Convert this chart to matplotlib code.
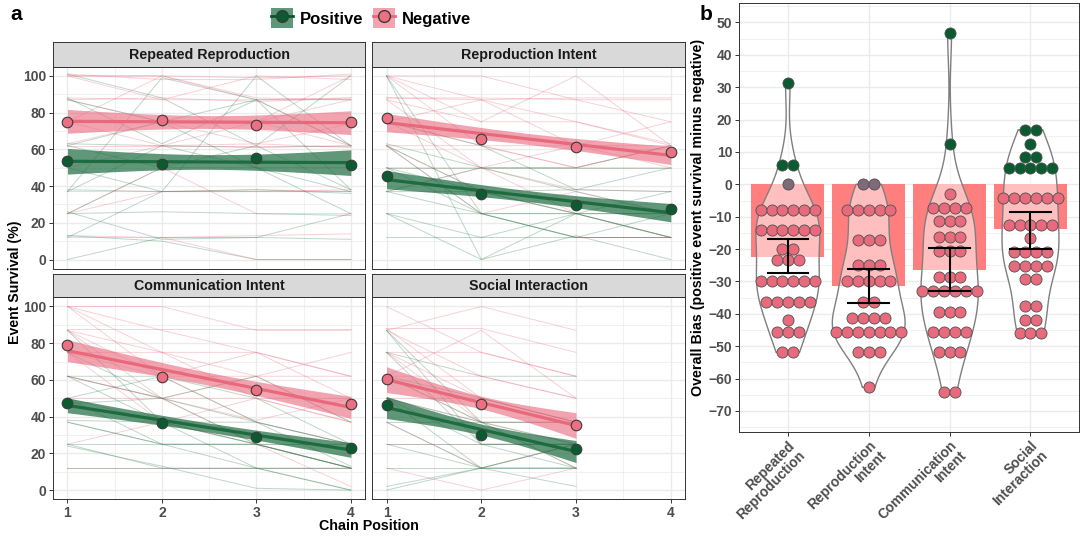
import numpy as np
import matplotlib
matplotlib.use("Agg")
import matplotlib.pyplot as plt
from matplotlib.patches import Patch
from matplotlib.lines import Line2D

plt.rcParams['font.family'] = ['Liberation Sans', 'DejaVu Sans']
plt.rcParams['font.weight'] = 'bold'

W, H = 1083, 537

# ---------------- panel a data ----------------
facet_names = ["Repeated Reproduction", "Reproduction Intent",
               "Communication Intent", "Social Interaction"]

pos_means = [[53.5, 52.0, 55.5, 51.5],
             [45.5, 35.5, 29.5, 27.5],
             [47.5, 36.5, 29.0, 23.0],
             [46.5, 30.0, 22.5]]
neg_means = [[75.0, 76.0, 73.5, 75.0],
             [77.0, 65.5, 61.5, 58.5],
             [79.0, 61.5, 54.5, 47.0],
             [60.5, 47.0, 35.5]]

# ribbon half widths (ends / centre) of the fitted trend
pos_ci_end = [7.0, 5.0, 4.0, 6.0]
pos_ci_mid = [4.0, 3.0, 2.5, 3.0]
neg_ci_end = [6.5, 5.0, 6.0, 7.0]
neg_ci_mid = [3.5, 3.0, 3.5, 3.5]

# individual chains
rr_pos_lines = [[101, 88, 62, 38], [88, 63, 87, 87], [62, 50, 50, 37], [62, 75, 87, 38],
                [50, 37, 100, 62], [38, 37, 37, 37], [37, 62, 50, 25], [25, 26, 25, 24],
                [26, 11, 12, 25], [13, 10, 0, 0], [0, 12, 12, 11], [37, 99, 87, 62],
                [63, 62, 61, 62], [87, 75, 50, 50], [12, 37, 38, 36], [25, 50, 62, 100]]
rr_neg_lines = [[100, 100, 99, 100], [101, 98, 98, 101], [100, 100, 88, 87], [88, 87, 87, 88],
                [87, 88, 86, 88], [87, 75, 75, 62], [76, 75, 63, 74], [75, 62, 75, 87],
                [63, 75, 75, 100], [62, 62, 62, 62], [50, 62, 63, 61], [37, 37, 38, 37],
                [25, 37, 37, 38], [25, 50, 25, 25], [13, 12, 0, 0], [100, 87, 100, 98],
                [75, 100, 87, 62], [12, 12, 13, 14]]
ri_pos_lines = [[100, 0, 25, 12], [100, 25, 12, 12], [63, 50, 50, 62], [62, 37, 25, 25],
                [50, 50, 50, 50], [50, 25, 12, 25], [37, 37, 25, 25], [37, 25, 25, 12],
                [25, 25, 12, 12], [25, 0, 13, 0], [12, 12, 25, 12], [75, 62, 38, 37],
                [50, 37, 38, 50], [37, 50, 37, 25], [62, 25, 25, 37], [25, 12, 12, 12]]
ri_neg_lines = [[100, 100, 87, 75], [100, 87, 75, 62], [88, 88, 87, 87], [88, 87, 88, 88],
                [100, 75, 100, 62], [75, 87, 62, 62], [75, 62, 62, 50], [62, 62, 50, 50],
                [87, 50, 62, 75], [62, 37, 25, 12], [75, 50, 38, 37], [100, 62, 50, 62],
                [50, 50, 50, 62], [62, 25, 37, 25], [87, 75, 75, 63], [37, 50, 25, 25]]
ci_pos_lines = [[62, 62, 50, 25], [50, 62, 37, 25], [62, 37, 25, 12], [47, 50, 37, 25],
                [37, 25, 25, 12], [38, 37, 12, 0], [25, 25, 25, 25], [25, 12, 12, 12],
                [24, 13, 1, 0], [12, 12, 12, 12], [62, 50, 62, 37], [50, 25, 25, 12],
                [87, 37, 37, 13], [37, 25, 12, 0], [75, 50, 25, 12], [50, 37, 25, 25]]
ci_neg_lines = [[100, 100, 87, 87], [100, 87, 75, 62], [88, 88, 88, 88], [87, 75, 62, 62],
                [100, 62, 75, 50], [75, 75, 50, 50], [75, 62, 62, 37], [62, 50, 50, 37],
                [87, 62, 37, 25], [62, 50, 38, 50], [50, 50, 25, 12], [25, 37, 50, 37],
                [12, 12, 12, 12], [100, 75, 75, 62], [75, 37, 25, 2], [87, 50, 62, 75]]
si_pos_lines = [[87, 37, 25], [75, 62, 62], [75, 25, 12], [62, 50, 37], [50, 25, 25],
                [50, 12, 25], [37, 12, 12], [25, 25, 25], [25, 12, 12], [12, 12, 12],
                [2, 12, 25], [0, 12, 2], [62, 37, 37], [50, 37, 12], [87, 25, 25], [37, 37, 37]]
si_neg_lines = [[100, 75, 62], [88, 88, 75], [87, 100, 87], [87, 62, 50], [75, 75, 62],
                [75, 50, 37], [62, 62, 50], [62, 87, 50], [62, 37, 25], [50, 50, 37],
                [50, 37, 12], [37, 12, 25], [25, 25, 25], [12, 0, 12], [75, 37, 37], [88, 50, 37]]

pos_lines = [rr_pos_lines, ri_pos_lines, ci_pos_lines, si_pos_lines]
neg_lines = [rr_neg_lines, ri_neg_lines, ci_neg_lines, si_neg_lines]

# ---------------- panel b data ----------------
bias_labels = ["Repeated\nReproduction", "Reproduction\nIntent",
               "Communication\nIntent", "Social\nInteraction"]
rr_bias = [31.2, 6.1, 6.1, 0.0, -7.9, -7.9, -7.9, -7.9, -7.9, -7.9,
           -14.1, -14.1, -14.1, -14.1, -14.1, -14.1, -20.0, -20.0, -23.5, -23.5, -23.5,
           -29.8, -29.8, -29.8, -29.8, -29.8, -29.8, -36.2, -36.2, -36.2, -36.2, -36.2,
           -41.9, -45.5, -45.5, -45.5, -51.9, -51.9]
ri_bias = [0.0, 0.0, -7.9, -7.9, -7.9, -7.9, -7.9, -17.2, -17.2, -17.2,
           -25.0, -25.0, -25.0, -29.8, -29.8, -29.8, -29.8, -29.8, -36.2, -36.2,
           -41.4, -41.4, -41.4, -41.4, -45.5, -45.5, -45.5, -45.5, -45.5, -45.5, -45.5,
           -51.7, -51.7, -51.7, -62.7]
ci_bias = [46.8, 12.4, -3.1, -7.4, -7.4, -7.4, -7.4, -11.2, -11.2, -11.2,
           -16.2, -16.2, -16.2, -20.5, -20.5, -20.5, -28.7, -28.7, -28.7,
           -33.1, -33.1, -33.1, -33.1, -33.1, -33.1, -39.3, -39.3, -39.3,
           -45.5, -45.5, -45.5, -45.5, -51.9, -51.9, -51.9, -64.2, -64.2]
si_bias = [16.8, 16.8, 12.4, 8.5, 8.5, 5.1, 5.1, 5.1, 5.1, 5.1,
           -4.1, -4.1, -4.1, -4.1, -4.1, -4.1, -12.6, -12.6, -12.6, -12.6, -12.6, -16.7,
           -20.8, -20.8, -20.8, -20.8, -25.2, -25.2, -25.2, -25.2, -29.3, -29.3,
           -37.6, -37.6, -41.9, -41.9, -46.0, -46.0, -46.0]
bias_values = [rr_bias, ri_bias, ci_bias, si_bias]
bias_means = [-22.3, -31.3, -26.5, -13.9]
bias_ci_hi = [-17.0, -26.1, -19.8, -8.5]
bias_ci_lo = [-27.5, -36.5, -33.1, -20.0]

# ---------------- style ----------------
PINK = "#E8687C"
PINK_PT = "#EC7082"
GREEN = "#0B552D"
GREEN_PT = "#0A5C30"
GREEN_RIB = "#1E6B40"
GREEN_THIN = "#2F7A4D"
GRID = "#EBEBEB"
TXT = "#4D4D4D"


def px(left, top, right, bottom):
    return [left / W, 1 - bottom / H, (right - left) / W, (bottom - top) / H]


fig = plt.figure(figsize=(W / 100, H / 100), dpi=100)

cols = [(53.3, 365.0), (372.3, 685.0)]
rows = [(42.3, 66.7, 268.7), (274.3, 297.3, 499.3)]


def style_panel(ax):
    ax.set_facecolor("white")
    for s in ax.spines.values():
        s.set_color("#333333")
        s.set_linewidth(0.7)
    ax.grid(True, which="major", color=GRID, lw=1.0, zorder=0)
    ax.grid(True, which="minor", color=GRID, lw=0.5, zorder=0)
    ax.set_axisbelow(True)


def ribbon_fit(ax, means, end, mid, color, pt_color, ralpha):
    x = np.arange(1, len(means) + 1)
    slope, icpt = np.polyfit(x, means, 1)
    xs = np.linspace(1, x.max(), 60)
    xc = x.mean()
    fit = icpt + slope * xs
    hw = np.sqrt(mid ** 2 + (end ** 2 - mid ** 2) * ((xs - xc) / (x.max() - xc)) ** 2)
    ax.fill_between(xs, fit - hw, fit + hw, color=color, alpha=ralpha, lw=0, zorder=3)
    ax.plot(xs, fit, color=color, lw=2.3, zorder=4, solid_capstyle="butt")
    ax.scatter(x, means, s=58, facecolor=pt_color, edgecolor="#3A3A3A", lw=0.8, zorder=5)


for k, name in enumerate(facet_names):
    r, c = divmod(k, 2)
    l, rgt = cols[c]
    st, pt, pb = rows[r]
    ax = fig.add_axes(px(l, pt, rgt, pb))
    style_panel(ax)
    for ln in neg_lines[k]:
        ax.plot(np.arange(1, len(ln) + 1), ln, color=PINK, lw=0.7, alpha=0.3, zorder=2)
    for ln in pos_lines[k]:
        ax.plot(np.arange(1, len(ln) + 1), ln, color=GREEN_THIN, lw=0.7, alpha=0.3, zorder=2)
    ribbon_fit(ax, neg_means[k], neg_ci_end[k], neg_ci_mid[k], PINK, PINK_PT, 0.6)
    ribbon_fit(ax, pos_means[k], pos_ci_end[k], pos_ci_mid[k], GREEN_RIB, GREEN_PT, 0.7)
    ax.set_xlim(0.85, 4.15)
    ax.set_ylim(-5, 105)
    ax.set_xticks([1, 2, 3, 4])
    ax.set_xticks([1.5, 2.5, 3.5], minor=True)
    ax.set_yticks(np.arange(0, 101, 20))
    ax.set_yticks(np.arange(10, 100, 20), minor=True)
    ax.tick_params(which="minor", length=0)
    ax.tick_params(which="major", length=3, color="#333333", width=0.7, labelsize=10,
                   labelcolor=TXT, pad=2)
    if r == 0:
        ax.tick_params(axis="x", length=0, labelbottom=False)
    if c == 1:
        ax.tick_params(axis="y", length=0, labelleft=False)
    for t in ax.get_xticklabels() + ax.get_yticklabels():
        t.set_fontweight("bold")
    # facet strip
    sax = fig.add_axes(px(l, st, rgt, pt))
    sax.set_facecolor("#D9D9D9")
    sax.set_xticks([])
    sax.set_yticks([])
    for s in sax.spines.values():
        s.set_color("#333333")
        s.set_linewidth(0.7)
    sax.text(0.5, 0.5, name, ha="center", va="center", fontsize=10.3,
             fontweight="bold", color="#1A1A1A", transform=sax.transAxes)

fig.text(15 / W, 1 - 282 / H, "Event Survival (%)", rotation=90, ha="center", va="center",
         fontsize=10.2, fontweight="bold", color="black")
fig.text(369 / W, 1 - 526 / H, "Chain Position", ha="center", va="center",
         fontsize=10.3, fontweight="bold", color="black")

handles = [(Patch(facecolor=GREEN_RIB, alpha=0.7, edgecolor="none"),
            Line2D([], [], color=GREEN, marker="o", markersize=8.5, lw=2,
                   markerfacecolor=GREEN_PT, markeredgecolor="#3A3A3A")),
           (Patch(facecolor=PINK, alpha=0.6, edgecolor="none"),
            Line2D([], [], color=PINK, marker="o", markersize=8.5, lw=2,
                   markerfacecolor=PINK_PT, markeredgecolor="#3A3A3A"))]
fig.legend(handles, ["Positive", "Negative"], loc="center", ncol=2,
           bbox_to_anchor=(371 / W, 1 - 18 / H), frameon=False,
           prop={"weight": "bold", "size": 12}, handlelength=1.3, handleheight=1.4,
           handletextpad=0.4, columnspacing=0.6)

fig.text(10 / W, 1 - 15 / H, "a", fontsize=15, fontweight="bold", ha="left", va="center")
fig.text(700 / W, 1 - 15 / H, "b", fontsize=15, fontweight="bold", ha="left", va="center")

# ---------------- panel b ----------------
bx = fig.add_axes(px(739.3, 3.3, 1079.0, 431.7))
style_panel(bx)
cat_x = np.arange(1, len(bias_labels) + 1)
bx.bar(cat_x, bias_means, width=0.9, color="#FF7F7F", zorder=1)


def nrd0(v):
    sd = np.std(v, ddof=1)
    iqr = np.subtract(*np.percentile(v, [75, 25]))
    return 0.9 * min(sd, iqr / 1.34) * len(v) ** -0.2


grids, dens = [], []
for vals in bias_values:
    v = np.asarray(vals, dtype=float)
    bw = nrd0(v)
    g = np.linspace(v.min(), v.max(), 400)
    d = np.exp(-0.5 * ((g[:, None] - v[None, :]) / bw) ** 2).sum(axis=1) / (len(v) * bw * np.sqrt(2 * np.pi))
    grids.append(g)
    dens.append(d)
dmax = max(d.max() for d in dens)

for i, (g, d) in enumerate(zip(grids, dens)):
    hw = 0.45 * d / dmax
    xs = np.concatenate([cat_x[i] - hw, (cat_x[i] + hw)[::-1]])
    ys = np.concatenate([g, g[::-1]])
    bx.fill(xs, ys, facecolor=(1, 1, 1, 0.5), edgecolor="#7F7F7F", lw=1.0, zorder=2)

spacing = 0.134
for i, vals in enumerate(bias_values):
    levels, counts = np.unique(np.asarray(vals), return_counts=True)
    for lv, n in zip(levels, counts):
        offs = (np.arange(n) - (n - 1) / 2) * spacing
        if lv > 0:
            col = GREEN_PT
        elif lv == 0:
            col = "#806A7A"
        else:
            col = "#E76B7D"
        bx.scatter(cat_x[i] + offs, np.full(n, lv), s=64, facecolor=col,
                   edgecolor="#505050", lw=0.6, zorder=3)

for i in range(len(cat_x)):
    bx.plot([cat_x[i], cat_x[i]], [bias_ci_lo[i], bias_ci_hi[i]], color="black", lw=1.5, zorder=4)
    for yv in (bias_ci_lo[i], bias_ci_hi[i]):
        bx.plot([cat_x[i] - 0.25, cat_x[i] + 0.25], [yv, yv], color="black", lw=1.5, zorder=4)

bx.set_xlim(0.4, 4.6)
bx.set_ylim(-76.4, 55.9)
bx.set_xticks(cat_x)
bx.set_xticklabels(bias_labels, rotation=45, ha="right", rotation_mode="anchor",
                   multialignment="right", linespacing=1.0)
bx.set_yticks(np.arange(-70, 51, 10))
bx.set_yticks(np.arange(-75, 56, 5), minor=True)
bx.tick_params(which="minor", length=0)
bx.tick_params(which="major", length=3, color="#333333", width=0.7, labelsize=10,
               labelcolor=TXT, pad=2)
bx.tick_params(axis="x", labelsize=10, pad=2)
for t in bx.get_xticklabels() + bx.get_yticklabels():
    t.set_fontweight("bold")
bx.set_ylabel("Overall Bias (positive event survival minus negative)", fontsize=10.3,
              fontweight="bold", labelpad=3)

fig.savefig("out.png", dpi=100)
